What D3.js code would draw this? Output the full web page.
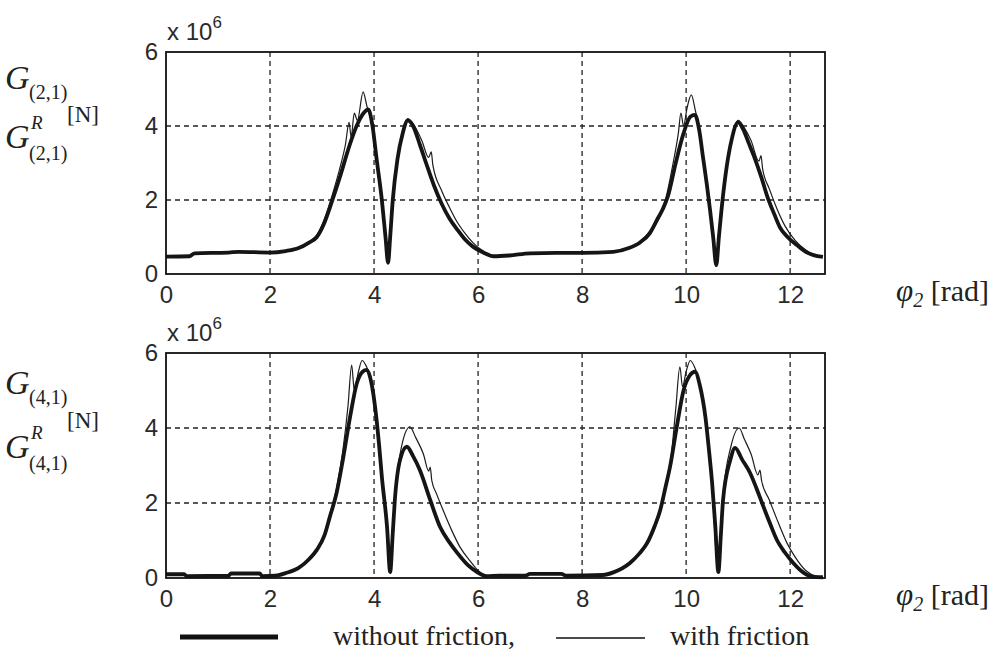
<!DOCTYPE html>
<html><head><meta charset="utf-8">
<script src="https://cdn.jsdelivr.net/npm/d3@7"></script>
<style>
body{margin:0;background:#fff;}
svg{display:block;}
.tick-lbl{font-family:"Liberation Sans",Arial,sans-serif;font-size:24px;fill:#2a2a2a;}
.serif{font-family:"Liberation Serif","Times New Roman",serif;fill:#222;}
</style>
</head><body>
<svg id="chart" width="1004" height="652"></svg>
<script>
// ---- data (φ2 in rad, G in 10^6 N) ----
const xTicks = [0, 2, 4, 6, 8, 10, 12];
const yTicks = [0, 2, 4, 6];
const xMax = 12.67;

const g21WithoutFriction = [[0,0.47],[0.45,0.48],[0.55,0.56],[1.2,0.58],[1.4,0.6],[2.0,0.58],[2.3,0.62],[2.55,0.7],[2.75,0.85],[2.9,1.0],[3.05,1.4],[3.2,2.0],[3.35,2.65],[3.5,3.35],[3.65,3.95],[3.8,4.35],[3.89,4.45],[3.97,4.0],[4.05,3.1],[4.15,2.0],[4.22,1.0],[4.27,0.3],[4.31,1.0],[4.36,2.0],[4.45,3.1],[4.55,3.8],[4.65,4.15],[4.75,4.0],[4.88,3.5],[5.0,3.0],[5.15,2.4],[5.3,1.9],[5.45,1.5],[5.6,1.2],[5.75,0.93],[5.9,0.74],[6.1,0.58],[6.3,0.48],[6.6,0.5],[7.0,0.56],[7.5,0.57],[8.0,0.57],[8.6,0.6],[8.9,0.7],[9.12,0.86],[9.3,1.1],[9.44,1.46],[9.55,1.75],[9.65,2.1],[9.8,3.0],[9.95,3.8],[10.08,4.25],[10.17,4.3],[10.25,3.9],[10.33,3.1],[10.4,2.4],[10.46,1.73],[10.52,1.0],[10.58,0.24],[10.63,1.0],[10.7,2.0],[10.78,2.9],[10.87,3.6],[11.0,4.1],[11.1,3.9],[11.2,3.55],[11.3,3.2],[11.45,2.6],[11.56,2.1],[11.7,1.6],[11.8,1.27],[11.95,1.0],[12.13,0.78],[12.3,0.6],[12.45,0.51],[12.63,0.46]];

const g21WithFriction = [[0,0.47],[0.45,0.48],[0.55,0.56],[1.2,0.58],[1.4,0.6],[2.0,0.58],[2.3,0.62],[2.55,0.7],[2.75,0.87],[2.9,1.05],[3.05,1.5],[3.2,2.15],[3.35,2.9],[3.45,3.5],[3.52,4.1],[3.56,3.7],[3.62,4.35],[3.68,4.15],[3.79,4.92],[3.86,4.55],[3.95,4.1],[4.03,3.2],[4.14,2.0],[4.21,1.0],[4.27,0.35],[4.31,1.0],[4.36,2.0],[4.45,3.15],[4.55,3.85],[4.65,4.2],[4.78,4.0],[4.92,3.6],[5.05,3.15],[5.1,3.3],[5.13,2.95],[5.3,2.25],[5.45,1.8],[5.6,1.4],[5.75,1.1],[5.9,0.85],[6.1,0.62],[6.3,0.5],[6.6,0.5],[7.0,0.56],[7.5,0.57],[8.0,0.57],[8.6,0.6],[8.9,0.7],[9.12,0.88],[9.3,1.15],[9.44,1.5],[9.6,2.0],[9.75,3.0],[9.85,3.8],[9.9,4.35],[9.95,4.0],[10.02,4.5],[10.1,4.84],[10.18,4.4],[10.26,3.9],[10.34,3.1],[10.46,1.75],[10.58,0.28],[10.64,1.1],[10.7,2.05],[10.87,3.65],[11.0,4.15],[11.12,3.95],[11.25,3.6],[11.4,3.05],[11.44,3.2],[11.47,2.85],[11.6,2.3],[11.75,1.75],[11.9,1.3],[12.1,0.9],[12.3,0.65],[12.45,0.53],[12.63,0.47]];

const g41WithoutFriction = [[0,0.1],[0.35,0.1],[0.4,0.05],[1.2,0.06],[1.25,0.12],[1.8,0.12],[1.85,0.05],[2.1,0.06],[2.3,0.13],[2.55,0.27],[2.75,0.5],[2.9,0.75],[3.05,1.15],[3.15,1.63],[3.28,2.27],[3.4,3.15],[3.54,4.3],[3.67,5.2],[3.78,5.5],[3.86,5.55],[3.95,5.2],[4.02,4.56],[4.1,3.5],[4.15,2.7],[4.25,1.36],[4.31,0.16],[4.36,1.2],[4.4,2.08],[4.5,3.15],[4.63,3.5],[4.75,3.25],[4.88,2.88],[5.08,2.08],[5.27,1.36],[5.45,0.95],[5.6,0.67],[5.8,0.35],[5.98,0.16],[6.17,0.05],[6.4,0.06],[6.9,0.06],[7.0,0.11],[7.6,0.11],[7.7,0.06],[8.4,0.08],[8.6,0.15],[8.92,0.4],[9.1,0.65],[9.25,0.93],[9.4,1.4],[9.5,1.8],[9.6,2.4],[9.69,2.96],[9.82,4.03],[9.95,5.0],[10.07,5.4],[10.17,5.5],[10.27,5.1],[10.37,4.3],[10.44,3.4],[10.5,2.53],[10.56,1.4],[10.62,0.16],[10.67,1.2],[10.71,2.08],[10.85,3.15],[10.94,3.47],[11.08,3.15],[11.23,2.8],[11.35,2.4],[11.46,2.0],[11.6,1.5],[11.75,1.0],[11.9,0.68],[12.06,0.4],[12.25,0.15],[12.45,0.03],[12.63,0.02]];

const g41WithFriction = [[0,0.1],[0.35,0.1],[0.4,0.05],[1.2,0.06],[1.25,0.12],[1.8,0.12],[1.85,0.05],[2.1,0.06],[2.3,0.13],[2.55,0.27],[2.75,0.5],[2.9,0.78],[3.05,1.2],[3.15,1.7],[3.28,2.4],[3.4,3.4],[3.5,4.6],[3.57,5.68],[3.62,5.0],[3.7,5.5],[3.77,5.8],[3.85,5.65],[3.95,5.25],[4.02,4.6],[4.1,3.55],[4.15,2.7],[4.25,1.3],[4.3,0.2],[4.35,1.2],[4.4,2.2],[4.52,3.45],[4.69,4.03],[4.8,3.75],[4.95,3.3],[5.05,2.85],[5.08,2.96],[5.11,2.6],[5.2,2.25],[5.33,1.8],[5.5,1.25],[5.65,0.83],[5.85,0.45],[6.0,0.2],[6.2,0.05],[6.4,0.06],[6.9,0.06],[7.0,0.11],[7.6,0.11],[7.7,0.06],[8.4,0.08],[8.6,0.15],[8.92,0.42],[9.1,0.68],[9.25,0.98],[9.4,1.45],[9.5,1.85],[9.6,2.45],[9.7,3.1],[9.8,4.5],[9.88,5.63],[9.93,5.1],[10.0,5.5],[10.08,5.8],[10.17,5.6],[10.27,5.15],[10.37,4.3],[10.5,2.5],[10.61,0.2],[10.66,1.2],[10.71,2.2],[10.86,3.5],[11.02,4.0],[11.12,3.7],[11.25,3.3],[11.38,2.75],[11.42,2.88],[11.45,2.6],[11.6,2.08],[11.75,1.55],[11.94,0.93],[12.1,0.55],[12.3,0.2],[12.5,0.05],[12.63,0.03]];

const legendLabels = ["without friction,", "with friction"];

// ---- layout ----
const svg = d3.select("#chart");
const left = 166, right = 825;
const x = d3.scaleLinear().domain([0, xMax]).range([left, right]);

function panel(top, bottom, thick, thin, idx, labels) {
  const y = d3.scaleLinear().domain([0, 6]).range([bottom, top]);
  const g = svg.append("g");
  // grid
  g.selectAll(".vg").data(xTicks.filter(d => d > 0)).join("line")
    .attr("x1", d => x(d)).attr("x2", d => x(d)).attr("y1", top).attr("y2", bottom)
    .attr("stroke", "#222").attr("stroke-width", 1.3).attr("stroke-dasharray", "5,4");
  g.selectAll(".hg").data(yTicks.filter(d => d > 0 && d < 6)).join("line")
    .attr("x1", left).attr("x2", right).attr("y1", d => y(d)).attr("y2", d => y(d))
    .attr("stroke", "#222").attr("stroke-width", 1.3).attr("stroke-dasharray", "5,4");
  // curves
  const line = d3.line().x(d => x(d[0])).y(d => y(d[1])).curve(d3.curveMonotoneX);
  g.append("path").datum(thin).attr("d", line).attr("fill", "none")
    .attr("stroke", "#1c1c1c").attr("stroke-width", 1.2);
  g.append("path").datum(thick).attr("d", line).attr("fill", "none")
    .attr("stroke", "#151515").attr("stroke-width", 3.8).attr("stroke-linejoin", "round");
  // box
  g.append("rect").attr("x", left).attr("y", top).attr("width", right - left).attr("height", bottom - top)
    .attr("fill", "none").attr("stroke", "#111").attr("stroke-width", 1.8);
  // axes labels
  const ax = d3.axisBottom(x).tickValues(xTicks).tickFormat(d3.format("d")).tickSize(0).tickPadding(12);
  const gx = g.append("g").attr("transform", `translate(0,${bottom})`).call(ax);
  gx.select(".domain").remove();
  gx.attr("font-size", null).attr("font-family", null);
  gx.selectAll("text").attr("class", "tick-lbl").attr("fill", null);
  const ay = d3.axisLeft(y).tickValues(yTicks).tickFormat(d3.format("d")).tickSize(0).tickPadding(8);
  const gy = g.append("g").attr("transform", `translate(${left},0)`).call(ay);
  gy.select(".domain").remove();
  gy.attr("font-size", null).attr("font-family", null);
  gy.selectAll("text").attr("class", "tick-lbl").attr("fill", null);
  // x 10^6
  const ex = g.append("text").attr("class", "tick-lbl").attr("x", left + 1).attr("y", top - 12);
  ex.append("tspan").text("x 10");
  ex.append("tspan").attr("font-size", 17).attr("dy", -12).text("6");
  // y label
  const L = labels;
  g.append("text").attr("class", "serif").attr("font-style", "italic").attr("font-size", 34)
    .attr("x", 5).attr("y", L.g1).text("G");
  g.append("text").attr("class", "serif").attr("font-size", 20).attr("x", 29).attr("y", L.g1 + 10).text(`(${idx},1)`);
  g.append("text").attr("class", "serif").attr("font-size", 23).attr("x", 67).attr("y", L.n).text("[N]");
  g.append("text").attr("class", "serif").attr("font-style", "italic").attr("font-size", 34)
    .attr("x", 5).attr("y", L.g2).text("G");
  g.append("text").attr("class", "serif").attr("font-style", "italic").attr("font-size", 19)
    .attr("x", 31).attr("y", L.g2 - 19).text("R");
  g.append("text").attr("class", "serif").attr("font-size", 20).attr("x", 29).attr("y", L.g2 + 12).text(`(${idx},1)`);
  // x label
  const xl = g.append("text").attr("class", "serif").attr("x", 896).attr("y", bottom + 27);
  xl.append("tspan").attr("font-style", "italic").attr("font-size", 31).text("φ");
  xl.append("tspan").attr("font-style", "italic").attr("font-size", 20).attr("dy", 6).text("2");
  xl.append("tspan").attr("font-size", 30).attr("dy", -6).text(" [rad]");
}

panel(52, 274, g21WithoutFriction, g21WithFriction, 2, {g1: 89, n: 122, g2: 148});
panel(353, 578, g41WithoutFriction, g41WithFriction, 4, {g1: 394, n: 428, g2: 458});

// legend
const lg = svg.append("g");
lg.append("line").attr("x1", 180).attr("x2", 278).attr("y1", 637).attr("y2", 637)
  .attr("stroke", "#111").attr("stroke-width", 5);
lg.append("text").attr("class", "serif").attr("font-size", 28).attr("x", 333).attr("y", 645).text(legendLabels[0]);
lg.append("line").attr("x1", 556).attr("x2", 645).attr("y1", 638).attr("y2", 638)
  .attr("stroke", "#111").attr("stroke-width", 1.4);
lg.append("text").attr("class", "serif").attr("font-size", 28).attr("x", 670).attr("y", 645).text(legendLabels[1]);
</script>
</body></html>
